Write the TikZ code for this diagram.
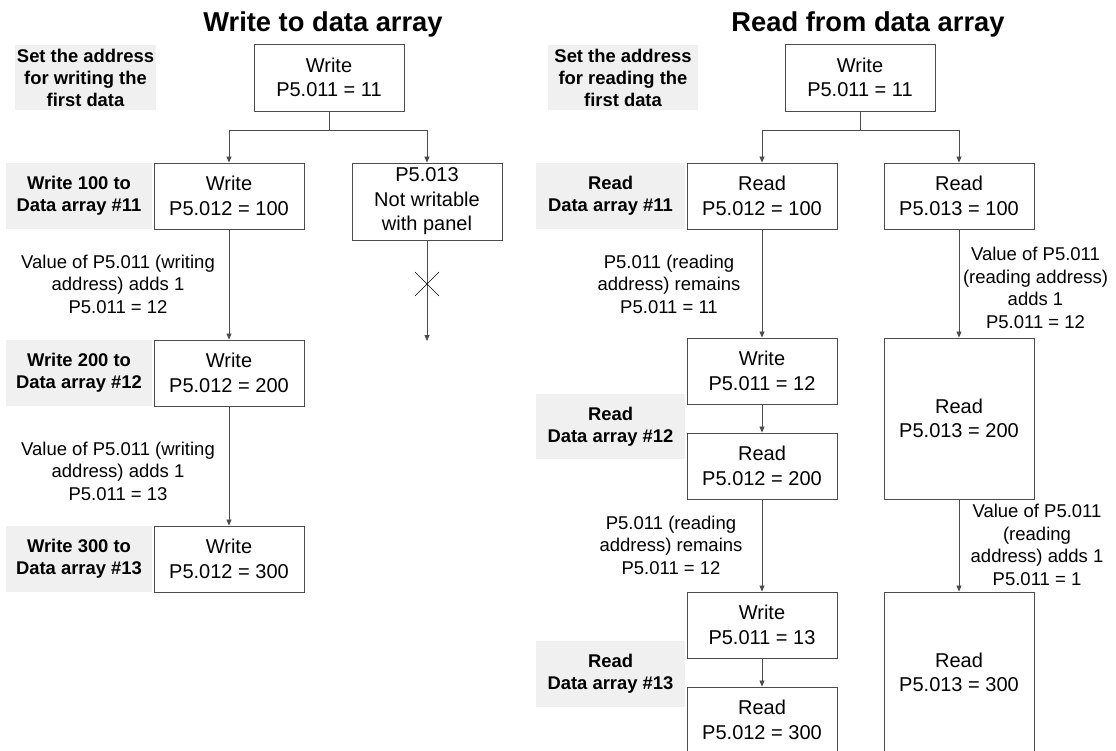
\documentclass[tikz,border=0pt]{standalone}
\usepackage{fontspec}
\setmainfont{Liberation Sans}
\usetikzlibrary{arrows.meta,calc}
\begin{document}
\begin{tikzpicture}[x=1pt,y=-1pt,
  box/.style={draw=black!70, line width=0.9pt, fill=white, minimum width=150pt, align=center, inner sep=0pt, font=\fontsize{20}{24.5}\selectfont},
  tag/.style={fill=black!6, align=center, inner sep=0pt, font=\bfseries\fontsize{18.4}{22}\selectfont},
  note/.style={align=center, inner sep=0pt, font=\fontsize{18.5}{22.5}\selectfont},
  ttl/.style={anchor=base, inner sep=0pt, font=\bfseries\fontsize{27.3}{30}\selectfont},
  line/.style={draw=black!70, line width=0.8pt},
  arr/.style={line, -{Triangle[length=6pt,width=5pt]}},
  cross/.style={draw=black, line width=0.6pt}
]
\useasboundingbox (0,0) rectangle (1116,751);

% titles
\node[ttl] (t1) at (323,32) {Write to data array};
\node[ttl] (t2) at (868,32) {Read from data array};

% ---------- left: write ----------
\node[tag, minimum width=141pt, minimum height=65pt] (g1) at (85.5,77.5) {Set the address\\for writing the\\first data};
\node[tag, minimum width=146pt, minimum height=66pt] (g2) at (79,196) {Write 100 to\\Data array \#11};
\node[tag, minimum width=146pt, minimum height=66pt] (g3) at (79,373) {Write 200 to\\Data array \#12};
\node[tag, minimum width=146pt, minimum height=66pt] (g4) at (79,559) {Write 300 to\\Data array \#13};

\node[box, minimum height=67pt] (L0) at (329,77.5) {Write\\P5.011 = 11};
\node[box, minimum height=66pt] (L1) at (229,196) {Write\\P5.012 = 100};
\node[box, minimum height=77pt] (LX) at (427,201.5) {P5.013\\Not writable\\with panel};
\node[box, minimum height=66pt] (L2) at (229,373) {Write\\P5.012 = 200};
\node[box, minimum height=66pt] (L3) at (229,559) {Write\\P5.012 = 300};

\coordinate (jl) at (229,130);
\coordinate (jr) at (427,130);
\draw[line] (L0.south) -- (L0.south |- jl);
\draw[line] (jl) -- (jr);
\draw[arr] (jl) -- (L1.north);
\draw[arr] (jr) -- (LX.north);
\coordinate (xend) at (427,341);
\draw[arr] (LX.south) -- (xend);
\coordinate (xc) at (427,284);
\draw[cross] ($(xc)+(-12,-12)$) -- ($(xc)+(12,12)$);
\draw[cross] ($(xc)+(-12,12)$) -- ($(xc)+(12,-12)$);
\draw[arr] (L1.south) -- (L2.north);
\draw[arr] (L2.south) -- (L3.north);

\node[note] (n1) at (118,284) {Value of P5.011 (writing\\address) adds 1\\P5.011 = 12};
\node[note] (n2) at (118,471) {Value of P5.011 (writing\\address) adds 1\\P5.011 = 13};

% ---------- right: read ----------
\node[tag, minimum width=150pt, minimum height=65pt] (h1) at (623,77.5) {Set the address\\for reading the\\first data};
\node[tag, minimum width=149pt, minimum height=66pt] (h2) at (610.5,196) {Read\\Data array \#11};
\node[tag, minimum width=149pt, minimum height=65pt] (h3) at (610.5,426.5) {Read\\Data array \#12};
\node[tag, minimum width=149pt, minimum height=66pt] (h4) at (610.5,674) {Read\\Data array \#13};

\node[box, minimum height=67pt] (R0) at (860,77.5) {Write\\P5.011 = 11};
\node[box, minimum height=66pt] (A1) at (762,196) {Read\\P5.012 = 100};
\node[box, minimum height=66pt] (B1) at (959,196) {Read\\P5.013 = 100};
\node[box, minimum height=66pt] (A2) at (762,371) {Write\\P5.011 = 12};
\node[box, minimum height=66pt] (A3) at (762,466) {Read\\P5.012 = 200};
\node[box, minimum height=161pt] (B2) at (959,418.5) {Read\\P5.013 = 200};
\node[box, minimum height=66pt] (A4) at (762,625) {Write\\P5.011 = 13};
\node[box, minimum height=66pt] (A5) at (762,720) {Read\\P5.012 = 300};
\node[box, minimum height=161pt] (B3) at (959,672.5) {Read\\P5.013 = 300};

\coordinate (kl) at (762,130);
\coordinate (kr) at (959,130);
\draw[line] (R0.south) -- (R0.south |- kl);
\draw[line] (kl) -- (kr);
\draw[arr] (kl) -- (A1.north);
\draw[arr] (kr) -- (B1.north);
\draw[arr] (A1.south) -- (A2.north);
\draw[arr] (A2.south) -- (A3.north);
\draw[arr] (A3.south) -- (A4.north);
\draw[arr] (A4.south) -- (A5.north);
\draw[arr] (B1.south) -- (B2.north);
\draw[arr] (B2.south) -- (B3.north);

\node[note] (m1) at (669,284) {P5.011 (reading\\address) remains\\P5.011 = 11};
\node[note] (m2) at (671,545) {P5.011 (reading\\address) remains\\P5.011 = 12};
\node[note] (r1) at (1035.5,288) {Value of P5.011\\(reading address)\\adds 1\\P5.011 = 12};
\node[note] (r2) at (1037,545) {Value of P5.011\\(reading\\address) adds 1\\P5.011 = 1};
\end{tikzpicture}
\end{document}
